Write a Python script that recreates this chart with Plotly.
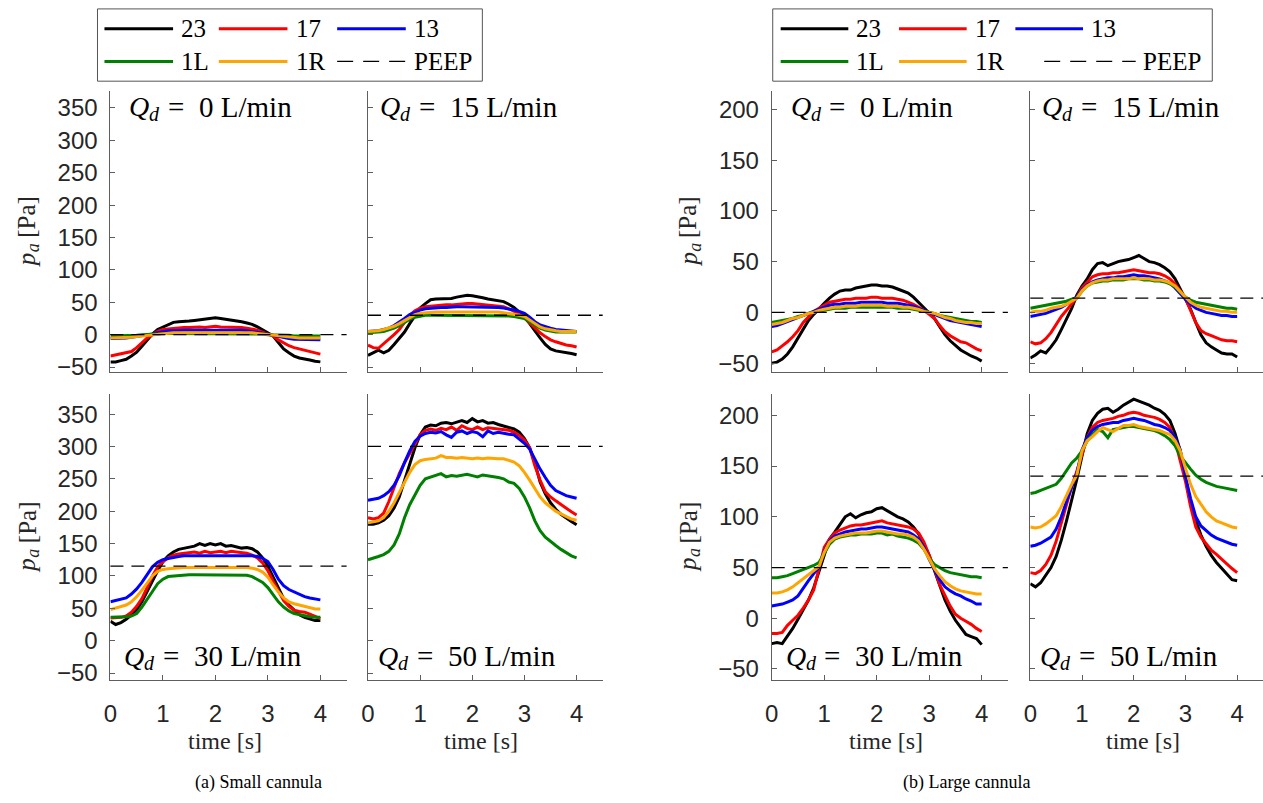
import plotly.graph_objects as go

# ---------------- data ----------------
time = [0.0, 0.1, 0.2, 0.3, 0.4, 0.5, 0.6, 0.7, 0.8, 0.9, 1.0, 1.1, 1.2, 1.3, 1.4, 1.5, 1.6, 1.7, 1.8, 1.9,
        2.0, 2.1, 2.2, 2.3, 2.4, 2.5, 2.6, 2.7, 2.8, 2.9, 3.0, 3.1, 3.2, 3.3, 3.4, 3.5, 3.6, 3.7, 3.8, 3.9, 4.0]

# (a) small cannula
a0_23 = [-42,-42,-40,-38,-33,-27,-18,-8,1,8,12,16,19,20,20,21,22,23,24,25,26,25,24,23,22,20,18,16,12,7,3,-2,-12,-22,-28,-33,-36,-37,-39,-41,-42]
a0_17 = [-33,-31,-29,-28,-26,-20,-13,-5,0,5,8,9,10,10,11,11,12,12,11,12,13,12,12,11,11,11,10,9,7,4,1,-2,-8,-13,-17,-20,-22,-24,-26,-28,-30]
a0_13 = [-6,-6,-5,-5,-4,-3,-2,-1,1,3,5,6,6,7,7,7,7,8,8,8,8,8,8,7,7,7,6,5,4,3,1,-1,-3,-5,-6,-7,-7,-8,-8,-8,-8]
a0_1L = [-2,-2,-2,-2,-1,-1,0,0,1,1,2,2,2,2,2,2,2,2,2,2,2,2,2,2,2,2,2,2,1,1,0,0,-1,-1,-1,-2,-2,-2,-2,-2,-2]
a0_1R = [-5,-5,-5,-4,-4,-3,-2,-1,0,1,2,3,3,3,3,4,4,4,4,4,4,4,4,4,3,3,3,3,2,1,0,-1,-2,-3,-4,-4,-5,-5,-5,-5,-5]

a15_23 = [-32,-28,-24,-28,-24,-15,-6,4,17,30,41,48,54,55,55,55,56,58,59,61,60,59,57,55,54,53,51,47,42,35,27,17,5,-5,-15,-22,-25,-26,-27,-29,-31]
a15_17 = [-16,-20,-21,-14,-8,0,8,19,30,37,41,43,44,45,45,46,46,47,48,48,48,47,47,46,45,44,43,40,36,32,26,18,10,3,-3,-8,-11,-14,-16,-17,-19]
a15_13 = [5,5,6,8,10,14,19,25,31,35,38,40,41,42,42,42,43,43,43,43,43,43,43,42,42,42,41,40,38,36,33,27,20,15,12,10,8,7,6,5,5]
a15_1L = [3,3,4,5,7,10,14,19,24,27,29,30,30,30,30,30,30,30,30,30,30,30,30,30,30,30,29,29,28,27,25,20,15,10,7,5,4,4,4,4,4]
a15_1R = [5,5,6,8,10,13,17,22,27,31,33,34,35,35,35,35,35,35,36,35,35,35,35,35,35,35,34,33,32,30,28,23,17,12,9,7,6,5,5,5,5]

a30_23 = [30,25,28,33,40,48,60,75,92,108,122,131,137,141,143,145,146,150,147,150,148,150,146,147,145,143,144,142,137,128,115,98,80,65,55,47,40,36,33,31,31]
a30_17 = [35,35,36,38,44,53,65,82,100,114,122,128,132,134,135,136,137,135,138,136,137,138,136,138,137,136,135,132,128,120,108,92,76,62,53,47,45,44,41,37,34]
a30_13 = [60,62,63,66,72,80,90,102,114,121,125,127,129,130,131,131,131,131,131,132,132,131,131,131,131,131,131,131,130,127,122,110,95,85,79,75,71,68,66,64,63]
a30_1L = [36,36,36,37,38,42,52,65,76,88,95,99,100,101,101,102,102,102,101,102,102,102,101,101,101,101,101,99,95,90,82,70,60,52,46,42,40,38,37,36,36]
a30_1R = [48,50,52,55,60,68,78,90,100,107,110,111,112,113,113,113,113,114,113,113,114,113,113,113,113,113,113,112,110,106,98,86,75,66,60,57,55,53,51,49,49]

a50_23 = [180,180,182,186,193,205,222,247,275,298,318,330,333,332,336,337,335,338,340,337,343,338,340,336,337,334,332,330,327,322,312,298,275,245,227,213,203,195,189,184,179]
a50_17 = [190,188,190,197,215,238,258,275,290,305,318,325,327,325,328,326,330,325,332,328,326,330,326,329,328,327,327,325,322,317,310,298,270,248,230,222,216,210,205,199,194]
a50_13 = [217,218,220,224,230,240,255,275,293,308,316,320,322,321,323,318,314,322,324,320,323,321,315,324,320,322,320,319,318,312,305,296,280,265,252,240,232,228,224,222,220]
a50_1L = [125,127,130,133,138,148,165,190,210,225,240,250,253,256,258,253,255,254,256,257,255,253,256,255,253,252,250,245,243,235,222,205,185,170,160,153,147,141,136,131,128]
a50_1R = [182,183,185,190,200,213,228,245,260,272,278,280,281,282,286,283,283,282,283,282,281,282,281,282,281,281,281,279,276,270,260,248,235,222,213,206,200,196,192,188,186]

# (b) large cannula
b0_23 = [-50,-49,-46,-41,-34,-25,-17,-8,-2,4,9,14,18,21,22,22,24,25,26,27,27,26,26,25,23,21,19,15,10,5,-1,-6,-14,-22,-28,-33,-37,-40,-43,-45,-48]
b0_17 = [-39,-37,-33,-29,-24,-18,-10,-4,1,4,7,10,11,12,13,13,14,14,14,15,15,14,14,14,13,12,10,8,5,2,-2,-6,-13,-19,-23,-26,-29,-30,-33,-36,-38]
b0_13 = [-14,-13,-11,-9,-7,-5,-3,-1,1,3,5,7,8,8,9,9,9,10,10,10,10,10,9,9,9,8,7,6,4,2,0,-2,-4,-6,-8,-9,-10,-11,-12,-13,-14]
b0_1L = [-10,-9,-8,-7,-6,-4,-3,-1,0,1,2,3,4,4,4,5,5,5,5,5,5,5,5,5,4,4,4,3,2,1,0,-1,-3,-4,-5,-6,-7,-8,-9,-9,-10]
b0_1R = [-12,-11,-10,-8,-6,-5,-3,-1,0,2,3,4,5,5,6,6,6,7,7,7,7,7,6,6,6,5,5,4,3,1,0,-1,-3,-5,-6,-8,-9,-10,-10,-11,-11]

b15_23 = [-45,-42,-38,-40,-34,-27,-17,-7,4,17,26,33,42,48,49,46,48,50,51,52,54,56,53,50,49,47,44,40,33,23,14,3,-10,-22,-30,-34,-37,-40,-41,-41,-44]
b15_17 = [-29,-31,-30,-26,-20,-12,-4,2,8,15,24,30,35,37,38,38,39,39,40,41,42,41,40,39,39,38,36,33,28,21,14,2,-10,-18,-21,-23,-25,-27,-28,-28,-29]
b15_13 = [-4,-3,-2,-1,1,3,5,8,12,15,22,27,30,32,33,34,34,35,35,36,37,36,36,35,34,33,31,29,24,18,13,8,4,2,0,-1,-2,-3,-3,-4,-4]
b15_1L = [4,5,6,7,8,9,10,11,13,14,21,26,29,30,31,31,32,32,32,33,33,33,32,32,31,31,30,28,25,20,15,12,10,9,8,7,6,5,4,4,3]
b15_1R = [0,1,1,2,4,5,6,8,11,14,21,26,29,31,32,32,33,33,33,33,34,33,33,33,32,32,31,29,26,20,15,10,7,5,4,3,2,1,1,0,0]

b30_23 = [-25,-24,-25,-18,-10,-1,8,18,30,46,64,78,85,92,100,103,99,102,104,105,108,109,106,103,100,98,95,90,83,73,62,47,32,18,7,-2,-9,-16,-18,-20,-26]
b30_17 = [-15,-15,-14,-7,-2,3,10,18,28,48,70,78,84,87,89,91,92,92,93,94,95,96,94,93,92,91,90,88,84,75,62,49,33,22,12,4,0,-3,-6,-10,-13]
b30_13 = [12,13,14,16,18,22,30,37,44,50,66,76,81,83,85,86,87,88,88,89,90,90,89,88,87,86,85,82,78,70,58,48,38,31,27,24,22,19,17,14,14]
b30_1L = [40,40,41,42,44,46,48,50,52,55,64,73,78,80,81,82,82,83,83,83,84,84,82,83,81,80,79,77,74,68,59,53,50,47,45,44,43,42,41,41,40]
b30_1R = [25,25,26,28,31,35,39,43,47,51,65,75,79,81,82,83,84,84,84,85,86,86,85,84,83,83,82,80,76,68,58,49,42,36,32,29,27,26,25,24,24]

b50_23 = [34,31,35,42,50,61,77,96,116,137,160,182,195,202,206,207,203,206,210,213,216,214,212,210,207,205,201,195,182,165,138,113,96,82,71,62,55,49,43,38,37]
b50_17 = [45,44,47,53,62,76,94,113,130,145,162,178,188,193,195,196,197,199,200,202,203,202,200,199,198,196,193,188,175,155,135,110,90,80,73,67,63,58,54,49,45]
b50_13 = [71,72,74,77,80,88,100,115,130,143,166,178,185,189,191,192,193,193,195,196,197,196,195,193,191,190,188,185,178,166,140,118,100,91,86,82,79,77,75,73,72]
b50_1L = [123,124,126,128,130,132,138,146,153,158,165,175,180,186,184,178,186,187,188,189,189,188,187,186,185,183,180,176,170,160,153,147,141,137,134,132,130,129,128,127,126]
b50_1R = [90,89,90,93,97,101,110,121,132,141,165,175,179,184,188,186,184,187,190,190,191,189,188,187,186,185,183,181,175,165,148,132,120,112,105,100,96,94,92,90,89]

series_names = ["23", "17", "13", "1L", "1R"]
flows = [0, 15, 30, 50, 0, 15, 30, 50]
peep = [0, 30, 115, 300, 0, 14, 50, 140]
ticks_a = [-50, 0, 50, 100, 150, 200, 250, 300, 350]
ticks_b = [-50, 0, 50, 100, 150, 200]
xticks = [0, 1, 2, 3, 4]
captions = ["(a) Small cannula", "(b) Large cannula"]

panel_series = [
    [a0_23, a0_17, a0_13, a0_1L, a0_1R],
    [a15_23, a15_17, a15_13, a15_1L, a15_1R],
    [a30_23, a30_17, a30_13, a30_1L, a30_1R],
    [a50_23, a50_17, a50_13, a50_1L, a50_1R],
    [b0_23, b0_17, b0_13, b0_1L, b0_1R],
    [b15_23, b15_17, b15_13, b15_1L, b15_1R],
    [b30_23, b30_17, b30_13, b30_1L, b30_1R],
    [b50_23, b50_17, b50_13, b50_1L, b50_1R],
]

# ---------------- styling / layout ----------------
W, H = 1263, 803
series_colors = ["#000000", "#ff0000", "#0000ff", "#008000", "#ffa500"]
LW = 3
SERIF = "Liberation Serif, Times New Roman, serif"
SANS = "Liberation Sans, Arial, sans-serif"
AX = "#5e5e5e"
TXT = "#262626"

col_px = [(104, 341.5), (363, 599), (769, 1006.5), (1029, 1263)]
row_px = [(92, 376), (398, 687)]
y_ranges = [[[-58, 376], [-61, 381]], [[-59, 218], [-61, 221]]]
q_offsets = [[17, 10], [12, 8]]  # [row][left/right column] x-offset of Q_d labels

def fx(p):
    return p / W

def fy(p):
    return 1 - p / H

def ann(text, x, y, size, xanchor="left", italic=False, angle=0, color="black"):
    return dict(text=text, xref="paper", yref="paper", x=fx(x), y=fy(y),
                xanchor=xanchor, yanchor="middle", showarrow=False, textangle=angle,
                font=dict(family=SERIF, size=size, color=color,
                          style="italic" if italic else "normal"))

fig = go.Figure()
layout = dict(
    width=W, height=H,
    margin=dict(l=0, r=0, t=0, b=0),
    paper_bgcolor="white", plot_bgcolor="white",
    showlegend=False,
)
annotations = []
shapes = []

for k in range(8):
    grp = k // 4
    sub = k % 4
    row = sub // 2
    col = sub % 2 + 2 * grp
    n = k + 1
    xn = "x" if n == 1 else f"x{n}"
    yn = "y" if n == 1 else f"y{n}"
    for s in range(5):
        fig.add_trace(go.Scatter(
            x=time, y=panel_series[k][s], xaxis=xn, yaxis=yn, mode="lines",
            line=dict(color=series_colors[s], width=LW), name=series_names[s],
            showlegend=False, hoverinfo="skip"))
    shapes.append(dict(type="line", xref=f"{xn} domain", x0=0, x1=1, yref=yn,
                       y0=peep[k], y1=peep[k], layer="above",
                       line=dict(color="black", width=1.3, dash="13px,8px")))
    common = dict(showline=True, linecolor=AX, linewidth=1, ticks="inside", ticklen=5,
                  tickcolor=AX, tickwidth=1, showgrid=False, zeroline=False,
                  tickfont=dict(family=SANS, size=24, color=TXT), fixedrange=True)
    x0p, x1p = col_px[col]
    y0p, y1p = row_px[row]
    layout[f"xaxis{n}"] = dict(common, domain=[fx(x0p), fx(x1p)], anchor=yn,
                               range=[0, 4.5], tickvals=xticks,
                               showticklabels=(row == 1), ticklabelstandoff=12)
    layout[f"yaxis{n}"] = dict(common, domain=[fy(y1p), fy(y0p)], anchor=xn,
                               range=y_ranges[grp][row],
                               tickvals=(ticks_a if grp == 0 else ticks_b),
                               showticklabels=(sub % 2 == 0), ticklabelstandoff=7)
    # Q_d label: italic Q, subscript italic d, '=' sign, then the flow value
    ty = 108 if row == 0 else 663
    tx = x0p + q_offsets[row][sub % 2]
    annotations.append(ann("Q", tx, ty, 28, italic=True))
    annotations.append(ann("d", tx + 20, ty + 7, 20, italic=True))
    annotations.append(ann("=", tx + 39, ty, 29))
    annotations.append(ann(f"{flows[k]} L/min", tx + 70, ty, 29))
    # x title
    if row == 1:
        annotations.append(ann("time [s]", (x0p + x1p) / 2 - 4, 748, 24,
                               xanchor="center", color=TXT))
    # y title (rotated): p, subscript a, [Pa]
    if sub % 2 == 0:
        xc = x0p - 84
        yc = (y0p + y1p) / 2
        annotations.append(ann("p", xc, yc + 28, 25, xanchor="center", italic=True,
                               angle=-90, color=TXT))
        annotations.append(ann("a", xc + 6, yc + 16, 18, xanchor="center", italic=True,
                               angle=-90, color=TXT))
        annotations.append(ann("[Pa]", xc, yc - 15, 25, xanchor="center",
                               angle=-90, color=TXT))

# captions
for g, cx in enumerate([253, 965]):
    annotations.append(ann(captions[g], cx, 790, 18, xanchor="center"))

# legends (boxes with line samples + labels)
legend_boxes = [(91, 9, 478, 82), (770, 9, 1212, 82)]
legend_lines = [
    [[(98, 167), (213, 282), (332, 401)], [(98, 167), (213, 282), (332, 401)]],
    [[(778, 846), (897, 965), (1014, 1082)], [(778, 846), (897, 965), (1043, 1135)]],
]
legend_text_x = [
    [[173, 289, 407], [173, 289, 407]],
    [[852, 971, 1088], [852, 971, 1140]],
]
legend_rows = [29, 62]
legend_labels = [["23", "17", "13"], ["1L", "1R", "PEEP"]]
legend_colors = [["#000000", "#ff0000", "#0000ff"], ["#008000", "#ffa500", "#000000"]]
for g in range(2):
    bx0, by0, bx1, by1 = legend_boxes[g]
    shapes.append(dict(type="rect", xref="paper", yref="paper", x0=fx(bx0), x1=fx(bx1),
                       y0=fy(by1), y1=fy(by0), line=dict(color="#555555", width=1),
                       fillcolor="rgba(0,0,0,0)"))
    for r in range(2):
        for c in range(3):
            lx0, lx1 = legend_lines[g][r][c]
            ly = legend_rows[r]
            is_peep = (r == 1 and c == 2)
            shapes.append(dict(type="line", xref="paper", yref="paper",
                               x0=fx(lx0), x1=fx(lx1), y0=fy(ly), y1=fy(ly),
                               line=dict(color=legend_colors[r][c],
                                         width=1.3 if is_peep else LW,
                                         dash="16px,10px" if is_peep else "solid")))
            annotations.append(ann(legend_labels[r][c], legend_text_x[g][r][c], ly, 25))

layout["annotations"] = annotations
layout["shapes"] = shapes
fig.update_layout(**layout)
fig.write_html("out.html")
